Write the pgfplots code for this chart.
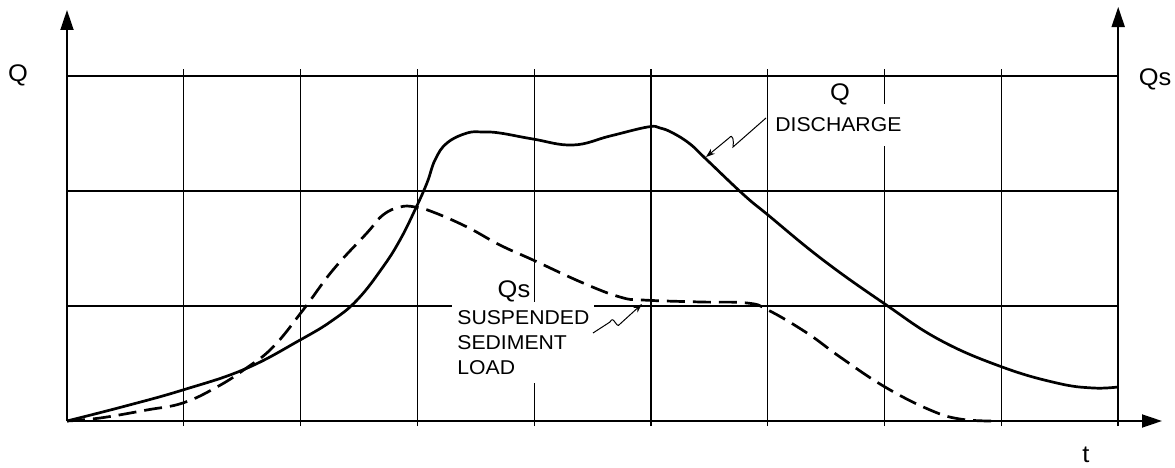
\documentclass[border=0pt]{standalone}
\usepackage{fontspec}
\setmainfont{Liberation Sans}[FakeStretch=1.06]
\usepackage{pgfplots}
\pgfplotsset{compat=1.18}
\usetikzlibrary{arrows.meta}

% discharge Q (solid) and suspended sediment load Qs (dashed)
\pgfplotstableread{
x     y
0     0
0.50  0.13
0.993 0.270
1.524 0.452
1.995 0.704
2.277 0.878
2.491 1.060
2.705 1.339
2.851 1.574
2.979 1.835
3.082 2.070
3.151 2.270
3.253 2.417
3.425 2.504
3.562 2.513
3.707 2.504
3.990 2.452
4.332 2.400
4.649 2.478
4.974 2.557
5.077 2.548
5.188 2.504
5.334 2.409
5.479 2.270
5.796 1.965
6.002 1.791
6.473 1.400
7.003 1.017
7.474 0.704
8.005 0.470
8.476 0.330
8.784 0.287
9.0   0.296
}\discharge

\pgfplotstableread{
x     y
0     0
0.283 0.026
0.685 0.096
0.993 0.157
1.284 0.296
1.524 0.452
1.764 0.643
2.021 0.965
2.277 1.313
2.568 1.635
2.705 1.791
2.851 1.861
2.979 1.861
3.134 1.817
3.425 1.687
3.707 1.530
3.990 1.400
4.418 1.200
4.735 1.078
4.932 1.052
5.420 1.035
5.822 1.026
6.002 0.965
6.336 0.765
6.618 0.557
7.003 0.296
7.389 0.096
7.646 0.017
7.928 0
}\sediment

\begin{document}
\begin{tikzpicture}
\begin{axis}[
  x=58.4pt, y=57.5pt,
  xmin=0, xmax=9, ymin=-0.045, ymax=3.06,
  enlargelimits=false,
  axis line style={draw=none},
  xtick={1,...,8}, ytick={1,2,3},
  xticklabels={}, yticklabels={},
  tick style={draw=none},
  grid=major,
  major grid style={black, line width=0.6pt},
  clip=false,
]
\coordinate (O) at (axis cs:0,0);
% axes with arrows
\draw[line width=0.9pt, -{Triangle[length=10pt,width=6.5pt]}] (axis cs:0,0) -- (axis cs:0,3.574);
\draw[line width=0.9pt, -{Triangle[length=10pt,width=6.5pt]}] (axis cs:9,-0.045) -- (axis cs:9,3.6);
\draw[line width=0.9pt, -{Triangle[length=10pt,width=6.5pt]}] (axis cs:0,0) -- (axis cs:9.375,0);

\addplot[black, line width=1.35pt, smooth, tension=0.7, no marks] table {\discharge};
\addplot[black, line width=1.35pt, smooth, tension=0.7, no marks, dash pattern=on 9pt off 4pt] table {\sediment};
\end{axis}

% labels, placed in pixel units of the reference
\begin{scope}[shift={(O)}, xshift=-33.5pt, yshift=210.5pt, x=0.5pt, y=-0.5pt]
  \node[font=\fontsize{12}{14}\selectfont] at (18,75) {Q};
  \node[font=\fontsize{12}{14}\selectfont] at (1155,79) {Qs};
  \node[font=\fontsize{12}{14}\selectfont] at (1086,455) {t};

  \node[anchor=west, fill=white, inner xsep=2pt, inner ysep=7pt,
        font=\fontsize{10}{12.5}\selectfont] at (771,125) {DISCHARGE};
  \node[font=\fontsize{12}{14}\selectfont] at (840,94) {Q};
  \draw[line width=0.5pt, -{Stealth[length=4.5pt,width=3.2pt]}]
    (766,118) -- (733,147) .. controls (734,141) and (733,133) .. (729,138) -- (706,157);

  \node[anchor=north west, fill=white, align=left, inner xsep=2.5pt, inner ysep=4pt,
        font=\fontsize{10}{12.5}\selectfont] at (452,302)
        {SUSPENDED\\SEDIMENT\\LOAD};
  \node[font=\fontsize{12}{14}\selectfont] at (514,291) {Qs};
  \draw[line width=0.5pt, -{Stealth[length=4.5pt,width=3.2pt]}]
    (593,333) -- (610,322) .. controls (614,314) and (616,330) .. (620,324) -- (642,304);

  \pgfresetboundingbox
  \path (0,0) rectangle (1175,467);
\end{scope}
\end{tikzpicture}
\end{document}
